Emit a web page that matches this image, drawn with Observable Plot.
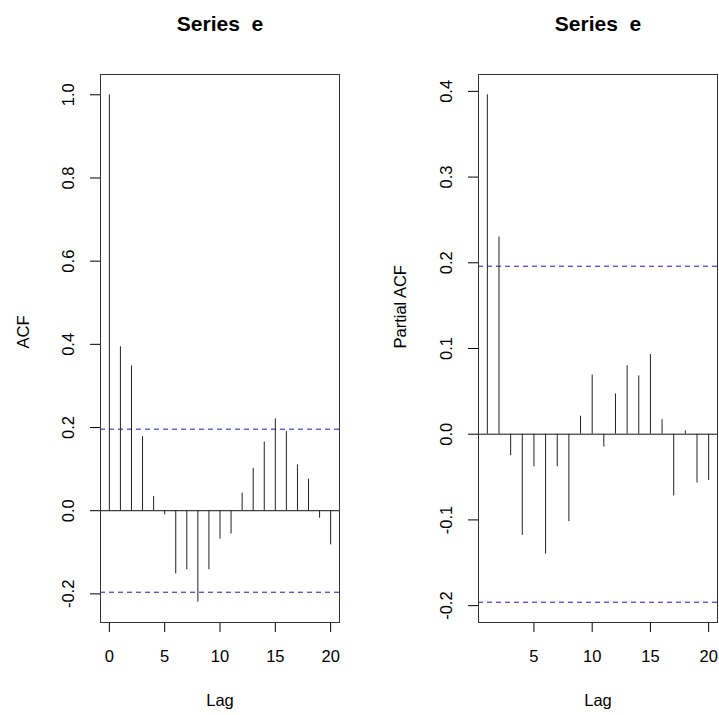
<!DOCTYPE html>
<html><head><meta charset="utf-8">
<script src="https://cdn.jsdelivr.net/npm/d3@7"></script>
<script src="https://cdn.jsdelivr.net/npm/@observablehq/plot@0.6"></script>
<style>
body{margin:0;background:#fff;}
#chart{position:relative;width:719px;height:715px;overflow:hidden;}
#chart svg{position:absolute;top:0;}
svg text{white-space:pre;}
</style></head><body><div id="chart"></div>
<script>
const acfLags = [0,1,2,3,4,5,6,7,8,9,10,11,12,13,14,15,16,17,18,19,20];
const acfValues = [1.0,0.394,0.348,0.178,0.034,-0.010,-0.152,-0.142,-0.220,-0.142,-0.068,-0.056,0.042,0.102,0.165,0.221,0.190,0.110,0.076,-0.018,-0.082];
const pacfLags = [1,2,3,4,5,6,7,8,9,10,11,12,13,14,15,16,17,18,19,20];
const pacfValues = [0.396,0.230,-0.025,-0.118,-0.038,-0.140,-0.038,-0.102,0.021,0.069,-0.015,0.047,0.080,0.068,0.093,0.017,-0.072,0.004,-0.057,-0.054];
const confLimit = 0.196;
const acfXTicks = [0,5,10,15,20];
const pacfXTicks = [5,10,15,20];
const acfYTicks = [-0.2,0,0.2,0.4,0.6,0.8,1.0];
const pacfYTicks = [-0.2,-0.1,0,0.1,0.2,0.3,0.4];
const titleText = "Series  e";
const xLabel = "Lag";
const acfYLabel = "ACF";
const pacfYLabel = "Partial ACF";

const FONT = "'Liberation Sans', Arial, Helvetica, sans-serif";

function panel({lags, values, ylab, xTicks, yTicks, left, width, marginLeft, marginRight, ylabDx}) {
  const data = lags.map((lag, i) => ({lag, value: values[i]}));
  const xe = d3.extent(lags), xp = 0.04 * (xe[1] - xe[0]);
  const ye = d3.extent([...values, confLimit, -confLimit]), yp = 0.04 * (ye[1] - ye[0]);
  const fmt = d => (Math.abs(d) < 1e-9 ? 0 : d).toFixed(1);
  const svg = Plot.plot({
    width, height: 715,
    marginLeft, marginRight, marginTop: 74, marginBottom: 93,
    style: {fontFamily: FONT, fontSize: "16.5px", color: "#000", background: "transparent", overflow: "visible"},
    x: {domain: [xe[0] - xp, xe[1] + xp]},
    y: {domain: [ye[0] - yp, ye[1] + yp]},
    marks: [
      Plot.ruleY([0], {stroke: "#111", strokeWidth: 1}),
      Plot.ruleY([confLimit, -confLimit], {stroke: "#1c1ca8", strokeDasharray: "5,4", strokeWidth: 1}),
      Plot.ruleX(data, {x: "lag", y1: 0, y2: "value", stroke: "#222", strokeWidth: 1}),
      Plot.axisX({ticks: xTicks, tickSize: 10, tickPadding: 18, tickFormat: d => String(d), label: null}),
      Plot.axisY({ticks: yTicks, tickSize: 10, tickPadding: 17, tickRotate: -90, tickFormat: fmt, label: null}),
      Plot.text([titleText], {text: d => d, frameAnchor: "top", dy: -44, lineAnchor: "bottom", fontWeight: "bold", fontSize: 21}),
      Plot.text([xLabel], {text: d => d, frameAnchor: "bottom", dy: 83, lineAnchor: "bottom"}),
      Plot.text([ylab], {text: d => d, frameAnchor: "left", dx: ylabDx, rotate: -90, lineAnchor: "middle"}),
      Plot.frame({stroke: "#333", strokeWidth: 1})
    ]
  });
  svg.style.left = left + "px";
  return svg;
}

const chart = document.getElementById("chart");
chart.appendChild(panel({lags: acfLags, values: acfValues, ylab: acfYLabel, xTicks: acfXTicks, yTicks: acfYTicks,
  left: 0, width: 359, marginLeft: 100, marginRight: 20, ylabDx: -77}));
chart.appendChild(panel({lags: pacfLags, values: pacfValues, ylab: pacfYLabel, xTicks: pacfXTicks, yTicks: pacfYTicks,
  left: 359, width: 360, marginLeft: 119, marginRight: 2, ylabDx: -78}));
</script>
</body></html>
